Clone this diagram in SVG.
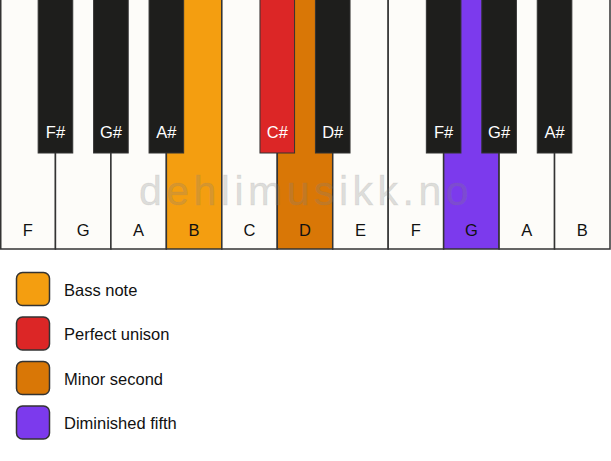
<svg xmlns="http://www.w3.org/2000/svg" width="611" height="461" viewBox="0 0 611 461">
<style>
.w{fill:#fdfcf9;stroke:#333;stroke-width:1.5}
.b{fill:#1e1e1c;stroke:#333;stroke-width:1}
.lbl{font-family:"Liberation Sans",Arial,sans-serif;font-size:16.5px;text-anchor:middle}
.wl{fill:#111}
.bl{fill:#fff}
.sw{stroke:#333;stroke-width:1.5}
.lt{font-family:"Liberation Sans",Arial,sans-serif;font-size:16.5px;fill:#111}
</style>
<rect width="611" height="461" fill="#fff"/>
<g id="white-keys">
<g id="wk-F1"><rect class="w" x="0.75" y="-2" width="54.7" height="251"/><text class="lbl wl" x="27.7" y="236">F</text></g>
<g id="wk-G1"><rect class="w" x="55.45" y="-2" width="55.46" height="251"/><text class="lbl wl" x="83.2" y="236">G</text></g>
<g id="wk-A1"><rect class="w" x="110.91" y="-2" width="55.45" height="251"/><text class="lbl wl" x="138.6" y="236">A</text></g>
<g id="wk-B1"><rect class="w" x="166.36" y="-2" width="55.46" height="251" style="fill:#f49e10"/><text class="lbl wl" x="194.1" y="236">B</text></g>
<g id="wk-C"><rect class="w" x="221.82" y="-2" width="55.45" height="251"/><text class="lbl wl" x="249.5" y="236">C</text></g>
<g id="wk-D"><rect class="w" x="277.27" y="-2" width="55.46" height="251" style="fill:#d97706"/><text class="lbl wl" x="305" y="236">D</text></g>
<g id="wk-E"><rect class="w" x="332.73" y="-2" width="55.45" height="251"/><text class="lbl wl" x="360.5" y="236">E</text></g>
<g id="wk-F2"><rect class="w" x="388.18" y="-2" width="55.46" height="251"/><text class="lbl wl" x="415.9" y="236">F</text></g>
<g id="wk-G2"><rect class="w" x="443.64" y="-2" width="55.45" height="251" style="fill:#7c3aed"/><text class="lbl wl" x="471.4" y="236">G</text></g>
<g id="wk-A2"><rect class="w" x="499.09" y="-2" width="55.46" height="251"/><text class="lbl wl" x="526.8" y="236">A</text></g>
<g id="wk-B2"><rect class="w" x="554.55" y="-2" width="55.45" height="251"/><text class="lbl wl" x="582.3" y="236">B</text></g>
</g>
<text x="306" y="205" font-family="Liberation Sans,Arial,sans-serif" font-size="41" letter-spacing="4.5" text-anchor="middle" fill="#808080" fill-opacity="0.25" stroke="#808080" stroke-opacity="0.12" stroke-width="1">dehlimusikk.no</text>
<g id="black-keys">
<g id="bk-Fs1"><rect class="b" x="38.15" y="-2" width="34.6" height="155"/><text class="lbl bl" x="55.45" y="138">F#</text></g>
<g id="bk-Gs1"><rect class="b" x="93.61" y="-2" width="34.6" height="155"/><text class="lbl bl" x="110.91" y="138">G#</text></g>
<g id="bk-As1"><rect class="b" x="149.06" y="-2" width="34.6" height="155"/><text class="lbl bl" x="166.36" y="138">A#</text></g>
<g id="bk-Cs"><rect class="b" x="259.97" y="-2" width="34.6" height="155" style="fill:#dc2626"/><text class="lbl bl" x="277.27" y="138">C#</text></g>
<g id="bk-Ds"><rect class="b" x="315.43" y="-2" width="34.6" height="155"/><text class="lbl bl" x="332.73" y="138">D#</text></g>
<g id="bk-Fs2"><rect class="b" x="426.34" y="-2" width="34.6" height="155"/><text class="lbl bl" x="443.64" y="138">F#</text></g>
<g id="bk-Gs2"><rect class="b" x="481.79" y="-2" width="34.6" height="155"/><text class="lbl bl" x="499.09" y="138">G#</text></g>
<g id="bk-As2"><rect class="b" x="537.25" y="-2" width="34.6" height="155"/><text class="lbl bl" x="554.55" y="138">A#</text></g>
</g>
<g id="legend">
<g id="lg-bass"><rect class="sw" x="16.5" y="272.5" width="33" height="33" rx="6" fill="#f49e10"/><text class="lt" x="64" y="295.5">Bass note</text></g>
<g id="lg-unison"><rect class="sw" x="16.5" y="317" width="33" height="33" rx="6" fill="#dc2626"/><text class="lt" x="64" y="340">Perfect unison</text></g>
<g id="lg-minor2"><rect class="sw" x="16.5" y="361.5" width="33" height="33" rx="6" fill="#d97706"/><text class="lt" x="64" y="384.5">Minor second</text></g>
<g id="lg-dim5"><rect class="sw" x="16.5" y="406" width="33" height="33" rx="6" fill="#7c3aed"/><text class="lt" x="64" y="429">Diminished fifth</text></g>
</g>
</svg>
